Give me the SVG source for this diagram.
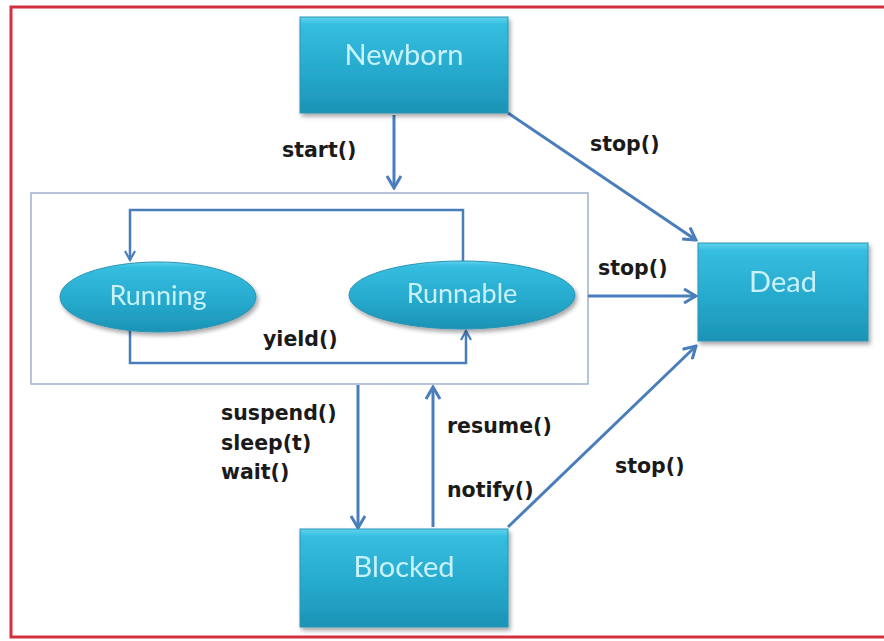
<svg xmlns="http://www.w3.org/2000/svg" width="884" height="641" viewBox="0 0 884 641">
<style>
.node{fill:url(#g);stroke:#2a93b3;stroke-width:1}
.ntext{font-family:Lato,"Open Sans",sans-serif;font-size:29px;fill:#c9f1fa;text-anchor:middle}
.etext{font-family:Lato,"Open Sans",sans-serif;font-size:27px;fill:#c9f1fa;text-anchor:middle}
.lbl{font-family:"DejaVu Sans",sans-serif;font-weight:bold;font-size:20.5px;fill:#1a1a1a}
.c{fill:none;stroke:#4a7ebb;stroke-width:3}
</style>
<defs>
<linearGradient id="g" x1="0" y1="0" x2="0" y2="1">
<stop offset="0" stop-color="#5fd3ee"/>
<stop offset="0.08" stop-color="#35bde0"/>
<stop offset="0.6" stop-color="#25a8cb"/>
<stop offset="1" stop-color="#1c93b5"/>
</linearGradient>
<filter id="sh" x="-10%" y="-10%" width="125%" height="130%">
<feDropShadow dx="2" dy="3" stdDeviation="2" flood-color="#000" flood-opacity="0.35"/>
</filter>
<marker id="a" viewBox="0 0 12 12" refX="10" refY="6" markerWidth="12" markerHeight="12" markerUnits="userSpaceOnUse" orient="auto">
<path d="M1,1 L10,6 L1,11" fill="none" stroke="#4a7ebb" stroke-width="2.2"/>
</marker>
<marker id="b" viewBox="0 0 16 16" refX="14" refY="8" markerWidth="16" markerHeight="16" markerUnits="userSpaceOnUse" orient="auto">
<path d="M2,1 L14,8 L2,15" fill="none" stroke="#4a7ebb" stroke-width="3"/>
</marker>
</defs>
<rect x="0" y="0" width="884" height="641" fill="#fff"/>
<rect x="11" y="7" width="885" height="630" fill="none" stroke="#d1313d" stroke-width="3"/>

<g id="container">
<rect x="31" y="193" width="557" height="191" fill="none" stroke="#9db1cf" stroke-width="1.5"/>
</g>

<g id="connectors">
<line class="c" x1="394" y1="115" x2="394" y2="188" marker-end="url(#b)"/>
<line class="c" x1="508" y1="113" x2="696" y2="240" marker-end="url(#b)"/>
<line class="c" x1="588" y1="296" x2="696" y2="296" marker-end="url(#b)"/>
<line class="c" x1="508" y1="527" x2="696" y2="346" marker-end="url(#b)"/>
<line class="c" x1="358" y1="385" x2="358" y2="528" marker-end="url(#b)"/>
<line class="c" x1="433" y1="527" x2="433" y2="387" marker-end="url(#b)"/>
<path class="c" style="stroke-width:2.5" d="M463,262 V210 H130 V260" marker-end="url(#a)"/>
<path class="c" style="stroke-width:2.5" d="M130,331 V363 H466 V331" marker-end="url(#a)"/>
</g>

<g id="newborn" filter="url(#sh)">
<rect class="node" x="300" y="17" width="208" height="96"/>
<text class="ntext" x="404" y="65">Newborn</text>
</g>
<g id="dead" filter="url(#sh)">
<rect class="node" x="698" y="243" width="170" height="98"/>
<text class="ntext" x="783" y="292">Dead</text>
</g>
<g id="blocked" filter="url(#sh)">
<rect class="node" x="300" y="529" width="208" height="98"/>
<text class="ntext" x="404" y="577">Blocked</text>
</g>
<g id="running" filter="url(#sh)">
<ellipse class="node" cx="158" cy="297" rx="98" ry="35"/>
<text class="etext" x="158" y="305">Running</text>
</g>
<g id="runnable" filter="url(#sh)">
<ellipse class="node" cx="462" cy="295" rx="113" ry="34"/>
<text class="etext" x="462" y="303">Runnable</text>
</g>

<g id="labels">
<text class="lbl" x="282" y="157">start()</text>
<text class="lbl" x="590" y="151">stop()</text>
<text class="lbl" x="598" y="275">stop()</text>
<text class="lbl" x="615" y="473">stop()</text>
<text class="lbl" x="263" y="346">yield()</text>
<text class="lbl" x="221" y="420">suspend()</text>
<text class="lbl" x="221" y="450">sleep(t)</text>
<text class="lbl" x="221" y="479">wait()</text>
<text class="lbl" x="447" y="433">resume()</text>
<text class="lbl" x="447" y="497">notify()</text>
</g>
</svg>
